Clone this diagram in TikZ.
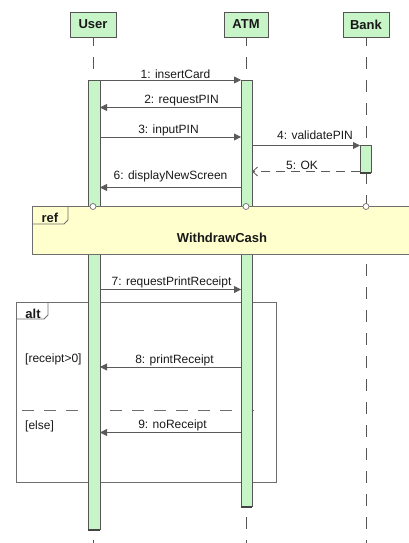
\documentclass[tikz,border=0pt]{standalone}
\usepackage{fontspec}
\setmainfont{Liberation Sans}
\usetikzlibrary{arrows.meta}

\definecolor{actgreen}{RGB}{200,245,200}
\definecolor{edgegray}{RGB}{85,85,85}
\definecolor{framegray}{RGB}{110,110,110}
\definecolor{reffill}{RGB}{255,255,206}
\definecolor{msggray}{RGB}{90,90,90}
\definecolor{txt}{RGB}{25,25,25}

\begin{document}
\begin{tikzpicture}[x=1pt,y=-1pt,
  head/.style={draw=edgegray, fill=actgreen, line width=0.8pt,
    font=\bfseries\fontsize{13}{15}\selectfont, text=txt,
    minimum height=25, inner sep=0pt},
  lifeline/.style={draw=edgegray, line width=0.8pt, dash pattern=on 12pt off 11pt, dash phase=3pt},
  act/.style={draw=edgegray, fill=actgreen, line width=0.8pt, inner sep=0pt, anchor=north},
  actbottom/.style={draw=edgegray!80!black, line width=1.6pt},
  msg/.style={draw=msggray, line width=0.8pt, -{Triangle[length=7pt,width=7pt]}},
  reply/.style={draw=msggray, line width=0.8pt, dash pattern=on 9pt off 6pt,
    -{Straight Barb[length=5pt,width=9pt]}},
  lbl/.style={above, inner sep=1pt, font=\fontsize{12}{14}\selectfont, text=txt},
  guard/.style={anchor=base west, inner sep=0pt, font=\fontsize{12}{14}\selectfont, text=txt},
  framebox/.style={draw=framegray, line width=0.8pt},
  tabtext/.style={anchor=base, inner sep=0pt, font=\bfseries\fontsize{13}{15}\selectfont, text=txt},
  gate/.style={circle, draw=framegray, fill=white, line width=0.7pt, inner sep=0pt, minimum size=6pt}
]
\useasboundingbox (0,0) rectangle (408,543);

% participants
\node[head, minimum width=46] (user) at (93,24.5) {User};
\node[head, minimum width=44] (atm)  at (246,24.5) {ATM};
\node[head, minimum width=46] (bank) at (366,24.5) {Bank};

% lifelines
\coordinate (userEnd) at (93,543);
\coordinate (atmEnd)  at (246,543);
\coordinate (bankEnd) at (366,543);
\draw[lifeline] (user.south) -- (userEnd);
\draw[lifeline] (atm.south)  -- (atmEnd);
\draw[lifeline] (bank.south) -- (bankEnd);

% alt combined fragment
\draw[framebox] (16,302.5) rectangle (276.5,482);
\draw[framebox] (16,319) -- (44,319) -- (48,315) -- (48,302.5);
\node[tabtext] (alttab) at (33,318) {alt};
\coordinate (sepL) at (22,410);
\coordinate (sepR) at (263,410);
\draw[framebox, dash pattern=on 12pt off 10pt] (sepL) -- (sepR);
\node[guard] (g1) at (25,362) {[receipt>0]};
\node[guard] (g2) at (25,429) {[else]};

% activation bars
\node[act, minimum width=12, minimum height=449] (uact) at (94,80) {};
\node[act, minimum width=11, minimum height=426] (aact) at (246.5,80) {};
\node[act, minimum width=11, minimum height=27]  (bact) at (365.5,145) {};
\draw[actbottom] (uact.south west) -- (uact.south east);
\draw[actbottom] (aact.south west) -- (aact.south east);
\draw[actbottom] (bact.south west) -- (bact.south east);

% interaction use
\fill[reffill] (32,206.5) rectangle (410,254.5);
\draw[framebox] (410,206.5) -- (32,206.5) -- (32,254.5) -- (410,254.5);
\draw[framebox] (32,224) -- (64,224) -- (68,220) -- (68,206.5);
\node[tabtext] (reftab) at (50,222) {ref};
\node[font=\bfseries\fontsize{13}{15}\selectfont, text=txt] (refname) at (222,238) {WithdrawCash};
\node[gate] (gu) at (93,206.5) {};
\node[gate] (ga) at (246,206.5) {};
\node[gate] (gb) at (366,206.5) {};

% messages
\coordinate (m1s) at (100,80);    \coordinate (m1e) at (241,80);
\coordinate (m2s) at (241,107.5); \coordinate (m2e) at (100,107.5);
\coordinate (m3s) at (100,137);   \coordinate (m3e) at (241,137);
\coordinate (m4s) at (252,145.5); \coordinate (m4e) at (360,145.5);
\coordinate (m5s) at (360,171.5); \coordinate (m5e) at (252,171.5);
\coordinate (m6s) at (241,187.5); \coordinate (m6e) at (100,187.5);
\coordinate (m7s) at (100,289.5); \coordinate (m7e) at (241,289.5);
\coordinate (m8s) at (241,367);   \coordinate (m8e) at (100,367);
\coordinate (m9s) at (241,432.5); \coordinate (m9e) at (100,432.5);

\draw[msg] (m1s) -- node[lbl, xshift=5pt] {1: insertCard} (m1e);
\draw[msg] (m2s) -- node[lbl, xshift=11pt] {2: requestPIN} (m2e);
\draw[msg] (m3s) -- node[lbl, xshift=-2pt] {3: inputPIN} (m3e);
\draw[msg] (m4s) -- node[lbl, xshift=9pt, yshift=4pt] {4: validatePIN} (m4e);
\draw[reply] (m5s) -- node[lbl, xshift=-4pt] {5: OK} (m5e);
\draw[msg] (m6s) -- node[lbl, yshift=4pt] {6: displayNewScreen} (m6e);
\draw[msg] (m7s) -- node[lbl, xshift=1pt] {7: requestPrintReceipt} (m7e);
\draw[msg] (m8s) -- node[lbl, xshift=4pt] {8: printReceipt} (m8e);
\draw[msg] (m9s) -- node[lbl, xshift=2pt] {9: noReceipt} (m9e);
\end{tikzpicture}
\end{document}
